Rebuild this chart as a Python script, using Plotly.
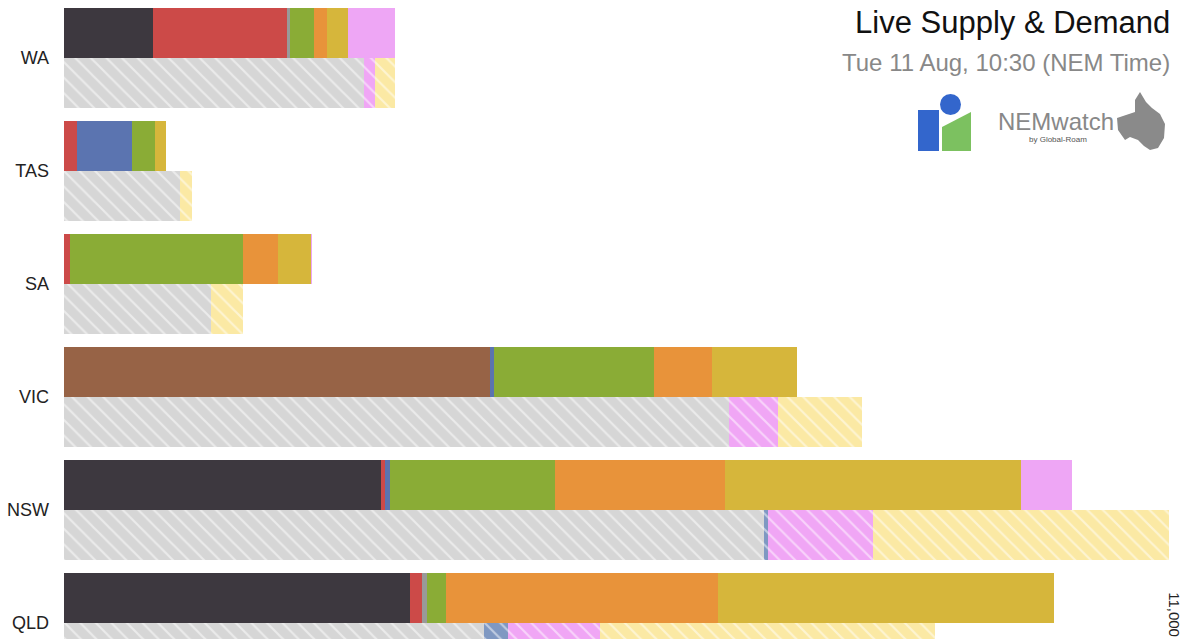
import plotly.graph_objects as go

regions = ["WA", "TAS", "SA", "VIC", "NSW", "QLD"]
# Supply by fuel (MW)
black_coal = [890, 0, 0, 0, 3170, 3460]
brown_coal = [0, 0, 0, 4260, 0, 0]
gas = [1340, 130, 60, 0, 40, 120]
other = [30, 0, 0, 0, 0, 50]
hydro = [0, 550, 0, 40, 50, 0]
wind = [240, 230, 1730, 1600, 1650, 190]
solar_farm = [130, 0, 350, 580, 1700, 2720]
rooftop = [210, 110, 330, 850, 2960, 3360]
battery = [470, 0, 10, 0, 510, 0]
# Demand side (MW)
dem_grid = [3000, 1160, 1470, 6650, 7000, 4200]
dem_hydro = [0, 0, 0, 0, 40, 240]
dem_pink = [110, 0, 0, 490, 1050, 920]
dem_yellow = [200, 120, 320, 840, 2960, 3350]
tick_label = "11,000"

centers = [-i for i in range(len(regions))]
off = 0.221
W = 0.4425
ys = [c + off for c in centers]
yd = [c - off for c in centers]

fig = go.Figure()
for vals, col in [(black_coal, "#3d383f"), (brown_coal, "#976346"), (gas, "#cc4a48"),
                  (other, "#999999"), (hydro, "#5b74b0"), (wind, "#8aac36"),
                  (solar_farm, "#e8933a"), (rooftop, "#d6b63b"), (battery, "#eea6f5")]:
    fig.add_trace(go.Bar(x=vals, y=ys, orientation="h", width=W, marker=dict(color=col, line_width=0),
                         showlegend=False))
for vals, col in [(dem_grid, "#d6d6d6"), (dem_hydro, "#7f98c2"), (dem_pink, "#f0a6f5"), (dem_yellow, "#fbe9a4")]:
    fig.add_trace(go.Bar(x=vals, y=yd, orientation="h", width=W,
                         marker=dict(color=col, line_width=0,
                                     pattern=dict(shape="\\", fgcolor="white", bgcolor=col, size=11, solidity=0.2)),
                         showlegend=False))

fig.update_layout(
    barmode="stack", width=1200, height=639, margin=dict(l=64, r=28, t=0, b=0),
    plot_bgcolor="white", paper_bgcolor="white", bargap=0,
    font=dict(family="Liberation Sans, Arial", color="#222"),
    xaxis=dict(range=[0, 11080], showgrid=False, zeroline=False, showticklabels=False, fixedrange=True),
    yaxis=dict(range=[-5.142, 0.513], tickvals=centers, ticktext=regions, showgrid=False, zeroline=False,
               tickfont=dict(size=18, color="#222"), ticklabelstandoff=14, fixedrange=True),
)
fig.add_annotation(x=11000, y=-4.71, text=tick_label, textangle=90, showarrow=False,
                   font=dict(size=15, color="#222"), xanchor="left", yanchor="top")
fig.add_annotation(xref="paper", yref="paper", x=1.0, y=0.965, text="Live Supply & Demand", showarrow=False,
                   xanchor="right", yanchor="middle", font=dict(size=31, color="#111"))
fig.add_annotation(xref="paper", yref="paper", x=1.0, y=0.902, text="Tue 11 Aug, 10:30 (NEM Time)", showarrow=False,
                   xanchor="right", yanchor="middle", font=dict(size=24, color="#888"))
# logos (pixel coords via paper)
def px(x): return (x - 64) / 1108
def py(y): return 1 - y / 639
fig.add_shape(type="rect", xref="paper", yref="paper", x0=px(918), x1=px(939), y0=py(151), y1=py(110),
              fillcolor="#3366cc", line_width=0)
fig.add_shape(type="circle", xref="paper", yref="paper", x0=px(940), x1=px(961), y0=py(115), y1=py(94),
              fillcolor="#3366cc", line_width=0)
fig.add_shape(type="path", xref="paper", yref="paper",
              path=f"M {px(942)} {py(151)} L {px(971)} {py(151)} L {px(971)} {py(112)} L {px(942)} {py(127)} Z",
              fillcolor="#7cc160", line_width=0)
fig.add_annotation(xref="paper", yref="paper", x=px(1116), y=py(122), text="NEMwatch", showarrow=False,
                   xanchor="right", yanchor="middle", font=dict(size=24, color="#888"))
fig.add_annotation(xref="paper", yref="paper", x=px(1089), y=py(139), text="by Global-Roam", showarrow=False,
                   xanchor="right", yanchor="middle", font=dict(size=8, color="#555"))
fig.add_shape(type="path", xref="paper", yref="paper",
              path=" ".join([("M" if i == 0 else "L") + f" {px(a)} {py(b)}" for i, (a, b) in enumerate(
                  [(1140, 92), (1146, 102), (1152, 108), (1160, 114), (1165, 124), (1164, 138), (1158, 148),
                   (1150, 150), (1144, 146), (1138, 140), (1130, 137), (1125, 140), (1118, 130), (1117, 118),
                   (1135, 112), (1135, 100)])]) + " Z",
              fillcolor="#8a8a8a", line_width=0)
fig.write_html("out.html", config={"displayModeBar": False})
with open("out.html") as f:
    html = f.read()
html = html.replace("<head>", "<head><style>html,body{margin:0;padding:0;overflow:hidden}</style>", 1)
with open("out.html", "w") as f:
    f.write(html)
